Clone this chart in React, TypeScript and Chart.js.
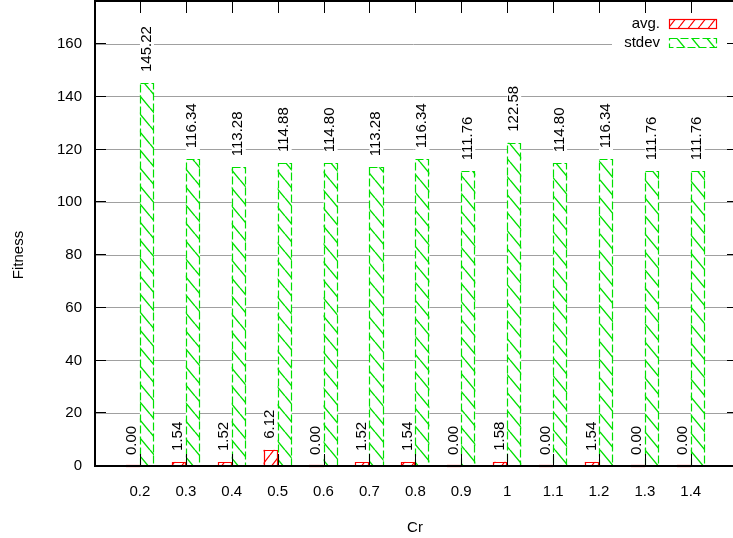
import { useEffect, useRef } from "react";
import { Chart, registerables } from "chart.js";

Chart.register(...registerables);

const categories = ["0.2", "0.3", "0.4", "0.5", "0.6", "0.7", "0.8", "0.9", "1", "1.1", "1.2", "1.3", "1.4"];
const avgValues = [0.0, 1.54, 1.52, 6.12, 0.0, 1.52, 1.54, 0.0, 1.58, 0.0, 1.54, 0.0, 0.0];
const stdevValues = [145.22, 116.34, 113.28, 114.88, 114.8, 113.28, 116.34, 111.76, 122.58, 114.8, 116.34, 111.76, 111.76];
const yTicks = [0, 20, 40, 60, 80, 100, 120, 140, 160];
const seriesNames = ["avg.", "stdev"];
const xTitle = "Cr";
const yTitle = "Fitness";

const W = 733;
const H = 538;
const FONT_FAMILY = "'Liberation Sans', Arial, Helvetica, sans-serif";
const FONT = `15px ${FONT_FAMILY}`;
const RED = "#ff0000";
const GREEN = "#00e000";
const LABEL_GAP = 11;

function makeHatch(color: string, w: number, h: number, dir: 1 | -1, lw: number): CanvasPattern | string {
  const c = document.createElement("canvas");
  c.width = w;
  c.height = h;
  const g = c.getContext("2d");
  if (!g) return "#fff";
  g.fillStyle = "#fff";
  g.fillRect(0, 0, w, h);
  g.strokeStyle = color;
  g.lineWidth = lw;
  g.beginPath();
  for (const s of [-w, 0, w]) {
    if (dir === 1) {
      g.moveTo(s, h);
      g.lineTo(s + w, 0);
    } else {
      g.moveTo(s, 0);
      g.lineTo(s + w, h);
    }
  }
  g.stroke();
  return g.createPattern(c, "repeat") || "#fff";
}

export default function App() {
  const ref = useRef<HTMLCanvasElement | null>(null);

  useEffect(() => {
    const canvas = ref.current;
    if (!canvas) return;
    const redHatch = makeHatch(RED, 10, 13, 1, 1.2);
    const greenHatch = makeHatch(GREEN, 15, 18, -1, 1.4);
    const values = [avgValues, stdevValues];
    const colors = [RED, GREEN];
    const fills = [redHatch, greenHatch];
    const dashes = [[], [8, 3]];

    const gpPlugin = {
      id: "gp",
      beforeDatasetsDraw(chart: any) {
        const ctx = chart.ctx as CanvasRenderingContext2D;
        ctx.save();
        ctx.fillStyle = "#fff";
        ctx.fillRect(612, 2, W - 612, 50);
        ctx.font = FONT;
        chart.data.datasets.forEach((_ds: any, di: number) => {
          const meta = chart.getDatasetMeta(di);
          meta.data.forEach((el: any, j: number) => {
            const txt = values[di][j].toFixed(2);
            const tw = ctx.measureText(txt).width;
            const y0 = el.y - LABEL_GAP;
            ctx.fillRect(el.x - 7, y0 - tw - 2, 14, tw + 4);
          });
        });
        ctx.restore();
      },
      afterDatasetsDraw(chart: any) {
        const ctx = chart.ctx as CanvasRenderingContext2D;
        const area = chart.chartArea;
        const xs = chart.scales.x;
        const ys = chart.scales.y;
        ctx.save();
        // bar borders
        chart.data.datasets.forEach((_ds: any, di: number) => {
          const meta = chart.getDatasetMeta(di);
          ctx.strokeStyle = colors[di];
          ctx.lineWidth = 1.2;
          ctx.setLineDash(dashes[di]);
          meta.data.forEach((el: any) => {
            const l = Math.round(el.x - el.width / 2) + 0.5;
            const r = Math.round(el.x + el.width / 2) - 0.5;
            const t = Math.round(el.y) + 0.5;
            const b = Math.round(el.base) - 0.5;
            ctx.beginPath();
            ctx.rect(l, Math.min(t, b), r - l, Math.abs(b - t));
            ctx.stroke();
          });
        });
        ctx.setLineDash([]);
        // value labels
        ctx.fillStyle = "#000";
        ctx.font = FONT;
        ctx.textAlign = "left";
        ctx.textBaseline = "middle";
        chart.data.datasets.forEach((_ds: any, di: number) => {
          const meta = chart.getDatasetMeta(di);
          meta.data.forEach((el: any, j: number) => {
            const txt = values[di][j].toFixed(2);
            ctx.save();
            ctx.translate(el.x - 0.5, el.y - LABEL_GAP);
            ctx.rotate(-Math.PI / 2);
            ctx.fillText(txt, 0, 0);
            ctx.restore();
          });
        });
        // legend
        const rows = [23.5, 42.5];
        ctx.textAlign = "right";
        seriesNames.forEach((name, i) => {
          ctx.fillStyle = "#000";
          ctx.fillText(name, 660, rows[i]);
          const top = Math.round(rows[i] - 4.5) + 0.5;
          ctx.fillStyle = fills[i] as any;
          ctx.fillRect(669, top, 48, 9);
          ctx.strokeStyle = colors[i];
          ctx.lineWidth = 1.2;
          ctx.setLineDash(dashes[i]);
          ctx.strokeRect(669.5, top, 47, 9);
          ctx.setLineDash([]);
        });
        // frame
        ctx.strokeStyle = "#000";
        ctx.lineWidth = 2;
        const L = Math.round(area.left) + 1;
        const T = Math.round(area.top) + 1;
        const B = Math.round(area.bottom);
        const R = W + 2;
        ctx.beginPath();
        ctx.moveTo(R, T);
        ctx.lineTo(L, T);
        ctx.lineTo(L, B);
        ctx.lineTo(R, B);
        ctx.stroke();
        // ticks
        ctx.lineWidth = 1;
        ctx.beginPath();
        yTicks.forEach((v) => {
          const y = Math.round(ys.getPixelForValue(v)) - 0.5;
          if (v === 0) return;
          ctx.moveTo(L, y);
          ctx.lineTo(L + 11, y);
          ctx.moveTo(W - 6, y);
          ctx.lineTo(W, y);
        });
        categories.forEach((_c, i) => {
          const x = Math.round(xs.getPixelForValue(i)) + 0.5;
          ctx.moveTo(x, T);
          ctx.lineTo(x, T + 12);
          ctx.moveTo(x, B);
          ctx.lineTo(x, B - 12);
        });
        ctx.stroke();
        // axis titles
        ctx.fillStyle = "#000";
        ctx.font = FONT;
        ctx.textAlign = "center";
        ctx.textBaseline = "middle";
        ctx.fillText(xTitle, 415, 528);
        ctx.save();
        ctx.translate(19, 255);
        ctx.rotate(-Math.PI / 2);
        ctx.fillText(yTitle, 0, 0);
        ctx.restore();
        ctx.restore();
      },
    };

    const chart = new Chart(canvas, {
      type: "bar",
      data: {
        datasets: [
          {
            label: seriesNames[0],
            data: avgValues.map((v, i) => ({ x: i, y: v })),
            backgroundColor: redHatch as any,
            borderWidth: 0,
            categoryPercentage: 0.614,
            barPercentage: 1,
          },
          {
            label: seriesNames[1],
            data: stdevValues.map((v, i) => ({ x: i, y: v })),
            backgroundColor: greenHatch as any,
            borderWidth: 0,
            categoryPercentage: 0.614,
            barPercentage: 1,
          },
        ],
      },
      options: {
        responsive: false,
        animation: false,
        devicePixelRatio: 1,
        layout: { padding: { top: 0, right: 0, left: 0, bottom: 0 } },
        plugins: { legend: { display: false }, tooltip: { enabled: false } },
        scales: {
          x: {
            type: "linear",
            min: -1,
            max: 12.92,
            offset: false,
            grid: { display: false, offset: false },
            border: { display: false },
            afterBuildTicks: (s: any) => {
              s.ticks = categories.map((_c, i) => ({ value: i }));
            },
            afterFit: (s: any) => {
              s.height = 72;
              s.paddingLeft = 0;
              s.paddingRight = 0;
            },
            ticks: {
              autoSkip: false,
              maxRotation: 0,
              padding: 9,
              color: "#000",
              font: { family: FONT_FAMILY, size: 15 },
              callback: (v: any) => categories[Math.round(Number(v))] ?? "",
            },
          },
          y: {
            type: "linear",
            min: 0,
            max: 176.7,
            grid: {
              drawTicks: false,
              color: (c: any) => (c.tick && c.tick.value === 0 ? "rgba(0,0,0,0)" : "#a0a0a0"),
              lineWidth: 1,
            },
            border: { display: false },
            afterBuildTicks: (s: any) => {
              s.ticks = yTicks.map((v) => ({ value: v }));
            },
            afterFit: (s: any) => {
              s.width = 94;
              s.paddingTop = 0;
              s.paddingBottom = 0;
            },
            ticks: {
              padding: 12,
              color: "#000",
              font: { family: FONT_FAMILY, size: 15 },
              callback: (v: any) => String(v),
            },
          },
        },
      },
      plugins: [gpPlugin],
    });

    return () => chart.destroy();
  }, []);

  return (
    <div style={{ position: "fixed", left: 0, top: 0, width: W, height: H, background: "#fff", overflow: "hidden" }}>
      <canvas ref={ref} width={W} height={H} style={{ display: "block", width: W, height: H }} />
    </div>
  );
}
